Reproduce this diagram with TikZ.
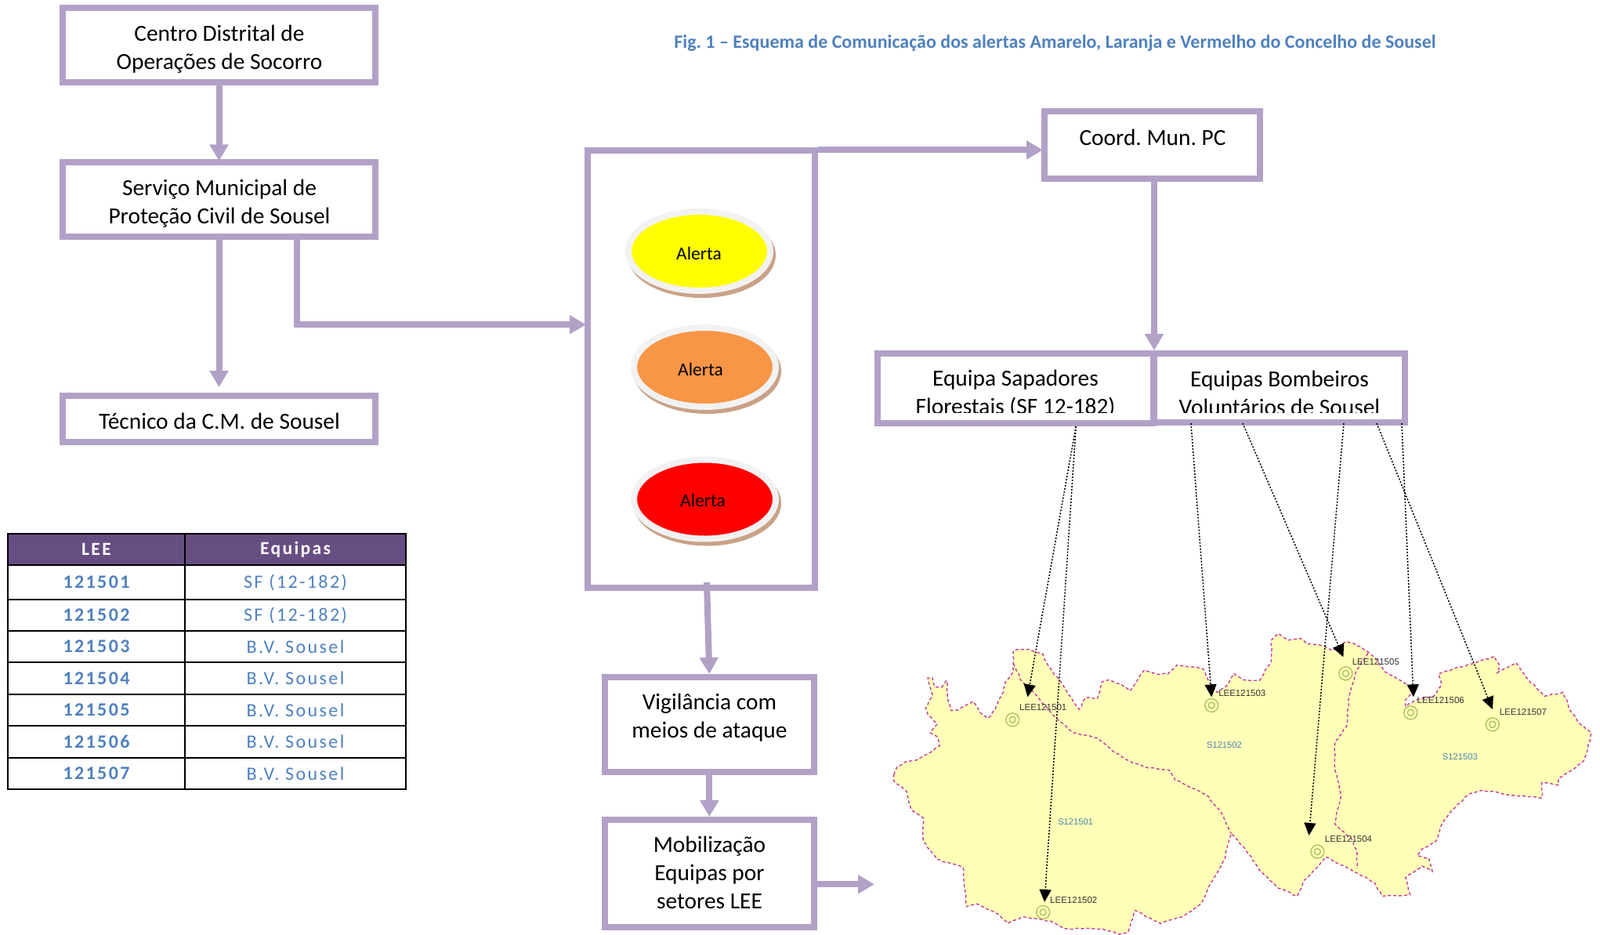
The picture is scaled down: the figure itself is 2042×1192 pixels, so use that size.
\documentclass[tikz,border=0pt]{standalone}
\usepackage{fontspec}
\setmainfont{Carlito}
\newfontfamily\tablefont[LetterSpace=10]{Carlito}
\newfontfamily\mapfont{Liberation Sans}
\usepackage{tikz}
\usetikzlibrary{arrows.meta,shapes.geometric,decorations.pathmorphing}
\definecolor{lilas}{HTML}{B2A1C7}
\definecolor{roxo}{HTML}{674E82}
\definecolor{azul}{HTML}{4F81BD}
\definecolor{amarelo}{HTML}{FFFF00}
\definecolor{laranja}{HTML}{F79646}
\definecolor{sombra}{HTML}{C9A287}
\definecolor{aro}{HTML}{F2F2F2}
\definecolor{mapa}{HTML}{FFFFB8}
\definecolor{limite}{HTML}{C23C9C}
\definecolor{marca}{HTML}{A9C05A}
\definecolor{setor}{HTML}{4A86B0}
\frenchspacing
\tikzset{
  caixa/.style={draw=lilas,line width=8pt,inner sep=0pt},
  texto/.style={inner sep=0pt,align=center,font=\fontsize{29.4}{36}\selectfont},
  seta/.style={draw=lilas,line width=8pt,-{Triangle[width=23pt,length=21pt]}},
  pontilhado/.style={line width=1.5pt,dash pattern=on 2pt off 2pt,-{Triangle[width=15pt,length=16pt]}},
  alerta/.style={ellipse,draw=aro,line width=8pt,minimum width=181pt,minimum height=101pt,inner sep=0pt,
    preaction={draw=sombra,line width=8pt,transform canvas={xshift=3pt,yshift=-5pt}}},
  alertaTexto/.style={inner sep=0pt,font=\fontsize{23.5}{28}\selectfont},
  celula/.style={draw=black,line width=1.5pt,inner sep=0pt,text=azul},
  cabecalho/.style={draw=black,line width=1.5pt,fill=roxo,inner sep=0pt,minimum height=40pt,text=white,font=\fontsize{23.5}{26}\tablefont\bfseries},
  marcaLEE/.style={circle,draw=marca,line width=1.3pt,inner sep=0pt},
  rotuloLEE/.style={inner sep=0pt,text=black!80,font=\fontsize{11.5}{14}\mapfont},
  rotuloSetor/.style={inner sep=0pt,text=setor,font=\fontsize{11.2}{14}\mapfont},
  limiteMapa/.style={draw=limite,line width=1.4pt,dash pattern=on 4pt off 3pt,
    decorate,decoration={random steps,segment length=5pt,amplitude=.8pt}}
}
\begin{document}
\begin{tikzpicture}[x=1pt,y=-1pt]
\useasboundingbox (0,0) rectangle (2042,1192);

\node[inner sep=0pt,text=azul,font=\fontsize{24}{28}\selectfont\bfseries] (titulo) at (1346.5,55)
  {Fig. 1 – Esquema de Comunicação dos alertas Amarelo, Laranja e Vermelho do Concelho de Sousel};

% mapa
\begin{scope}[shift={(1100,780)},x=0.6006pt,y=-0.3333pt]
\path[fill=mapa,limiteMapa] plot coordinates {(68,625) (75,595) (95,575) (115,570) (140,545) (165,515) (160,480) (145,465) (160,430) (140,395) (135,370) (150,320) (140,255) (150,255) (155,290) (170,290) (180,265) (183,340) (190,380) (205,378) (237,345) (250,385) (268,410) (285,365) (300,310) (305,270) (322,230) (322,150) (355,145) (385,165) (395,205) (418,260) (440,320) (462,375) (475,330) (500,335) (510,270) (525,262) (555,285) (570,305) (600,225) (625,240) (650,240) (670,205) (725,220) (735,260) (755,310) (775,285) (790,238) (810,262) (845,265) (870,190) (870,110) (885,85) (905,110) (935,105) (945,125) (975,130) (1000,150) (1030,115) (1060,135) (1085,170) (1115,235) (1145,265) (1165,290) (1170,305) (1155,340) (1155,365) (1175,340) (1215,325) (1232,280) (1225,240) (1265,215) (1300,200) (1345,172) (1355,210) (1350,235) (1390,197) (1410,250) (1450,325) (1490,310) (1500,350) (1505,380) (1525,430) (1550,465) (1540,545) (1530,580) (1480,640) (1480,665) (1445,655) (1445,715) (1390,705) (1320,685) (1290,700) (1250,770) (1235,805) (1220,880) (1190,910) (1180,935) (1205,945) (1212,995) (1190,975) (1155,1020) (1165,1085) (1105,1090) (1090,1040) (1040,990) (985,940) (965,985) (940,1030) (925,1090) (885,1060) (850,1000) (810,900) (785,850) (780,880) (770,950) (745,1030) (720,1120) (680,1170) (635,1195) (580,1145) (565,1230) (545,1236) (510,1215) (430,1215) (400,1185) (340,1170) (310,1195) (290,1160) (245,1120) (222,1130) (215,980) (190,965) (160,950) (130,880) (130,790) (105,760) (95,690) (68,650)} -- cycle;
\path[limiteMapa] plot coordinates {(322,200) (340,270) (370,320) (410,405) (450,465) (500,485) (530,530) (565,570) (600,595) (655,610) (665,645) (730,700) (760,760) (785,850)};
\path[limiteMapa] plot coordinates {(1075,160) (1050,230) (1035,330) (1030,440) (1005,500) (1005,600) (1018,700) (1005,815) (1040,870) (1052,920) (1052,985)};
\foreach \mx/\my/\lx/\ly/\nome in {320/415/385/368/121501,385/1152/450/1106/121502,743/360/808/315/121503,968/920/1034/873/121504,1028/238/1092/193/121505,1166/388/1230/342/121506,1340/433/1405/387/121507}{
  \node[marcaLEE,minimum size=17pt] (marca\nome) at (\mx,\my) {};
  \node[marcaLEE,minimum size=8pt] at (marca\nome) {};
  \node[rotuloLEE] (rotulo\nome) at (\lx,\ly) {LEE\nome};
}
\node[rotuloSetor] (setorA) at (454,806) {S121501};
\node[rotuloSetor] (setorB) at (770,513) {S121502};
\node[rotuloSetor] (setorC) at (1271,556) {S121503};
\coordinate (ponta01) at (352,328);
\coordinate (ponta02) at (388,1113);
\coordinate (ponta03) at (743,328);
\coordinate (ponta04) at (950,858);
\coordinate (ponta05) at (1023,175);
\coordinate (ponta06) at (1172,328);
\coordinate (ponta07) at (1340,375);
\end{scope}

% caixas
\node[caixa,minimum width=399pt,minimum height=94.7pt] (centro) at (279.5,57.3) {};
\node[texto] (centroTexto) at (280,62.5) {Centro Distrital de\\Operações de Socorro};
\node[caixa,minimum width=399pt,minimum height=94.7pt] (servico) at (279.5,254.7) {};
\node[texto] (servicoTexto) at (280,259.5) {Serviço Municipal de\\Proteção Civil de Sousel};
\node[caixa,minimum width=399pt,minimum height=59pt] (tecnico) at (279.5,534.2) {};
\node[texto] (tecnicoTexto) at (280,537) {Técnico da C.M. de Sousel};
\node[caixa,minimum width=290pt,minimum height=557.6pt] (alertas) at (895,471.2) {};
\node[caixa,minimum width=275pt,minimum height=85.3pt] (coordMun) at (1470.5,185) {};
\node[texto] (coordTexto) at (1471,175) {Coord. Mun. PC};
\node[caixa,minimum width=266.7pt,minimum height=120.7pt] (vigilancia) at (905.3,924.3) {};
\node[texto] (vigilanciaTexto) at (905.5,915.5) {Vigilância com\\meios de ataque};
\node[caixa,minimum width=266.7pt,minimum height=137.3pt] (mobilizacao) at (905.3,1114.7) {};
\node[texto] (mobilizacaoTexto) at (905.5,1113.5) {Mobilização\\Equipas por\\setores LEE};
\begin{scope}
\clip (1124,455) rectangle (1788,526.5);
\node[texto] (sapadoresTexto) at (1296,502.5) {Equipa Sapadores\\Florestais (SF 12-182)};
\node[texto] (bombeirosTexto) at (1633,501.5) {Equipas Bombeiros\\Voluntários de Sousel};
\end{scope}
\node[caixa,minimum width=352.5pt,minimum height=89pt] (sapadores) at (1296.2,495.5) {};
\node[caixa,minimum width=320pt,minimum height=88pt] (bombeiros) at (1633,495) {};

% alertas
\node[alerta,fill=amarelo] (alertaAmarelo) at (892.5,320.5) {};
\node[alerta,fill=laranja] (alertaLaranja) at (899.5,468.5) {};
\node[alerta,fill=red] (alertaVermelho) at (899.5,637) {};
\node[alertaTexto] (textoAmarelo) at (892,323) {Alerta};
\node[alertaTexto] (textoLaranja) at (894,471) {Alerta};
\node[alertaTexto] (textoVermelho) at (897,638) {Alerta};

% setas
\coordinate (entradaMapa) at (1116,1128.3);
\draw[seta,shorten >=-2pt] (centro) -- (servico);
\draw[seta] (servico) -- ([yshift=6.7pt]tecnico.north);
\draw[seta,shorten >=-2pt] ([xshift=99.5pt]servico.south) |- ([yshift=57pt]alertas.west);
\draw[seta,shorten >=-2pt] ([yshift=-3pt]alertas.north east) -- ([yshift=-6.4pt]coordMun.west);
\draw[seta] ([xshift=2.5pt]coordMun.south) -- ([xshift=2.5pt]coordMun.south |- sapadores.north);
\draw[seta] ([xshift=7pt,yshift=11pt]alertas.south) -- (vigilancia.north);
\draw[seta] (vigilancia) -- (vigilancia.south |- mobilizacao.north);
\draw[seta] ([yshift=-13.6pt]mobilizacao.east) -- (entradaMapa);

\draw[pontilhado] ([xshift=77pt]sapadores.south) -- (ponta01);
\draw[pontilhado] ([xshift=77pt]sapadores.south) -- (ponta02);
\draw[pontilhado] ([xshift=-113pt,yshift=3pt]bombeiros.south) -- (ponta03);
\draw[pontilhado] ([xshift=-47pt,yshift=3pt]bombeiros.south) -- (ponta05);
\draw[pontilhado] ([xshift=82pt,yshift=3pt]bombeiros.south) -- (ponta04);
\draw[pontilhado] ([xshift=124pt,yshift=3pt]bombeiros.south) -- (ponta07);
\draw[pontilhado] ([xshift=156pt,yshift=3pt]bombeiros.south) -- (ponta06);

% tabela
\node[cabecalho,minimum width=226pt] (cabLEE) at (123,701) {LEE};
\node[cabecalho,minimum width=282pt] (cabEquipas) at (377,701) {Equipas};
\foreach \lee/\equipa/\ytab/\htab [count=\i] in {121501/SF (12-182)/743/44,121502/SF (12-182)/785/40,121503/B.V. Sousel/825/40,121504/B.V. Sousel/865.5/41,121505/B.V. Sousel/906/40,121506/B.V. Sousel/946.5/41,121507/B.V. Sousel/987/40}{
  \node[celula,minimum width=226pt,minimum height=\htab pt,font=\fontsize{24}{28}\tablefont\bfseries] (lee\i) at (123,\ytab) {\lee};
  \node[celula,minimum width=282pt,minimum height=\htab pt,font=\fontsize{24}{28}\tablefont] (equipa\i) at (377,\ytab) {\equipa};
}
\end{tikzpicture}
\end{document}
